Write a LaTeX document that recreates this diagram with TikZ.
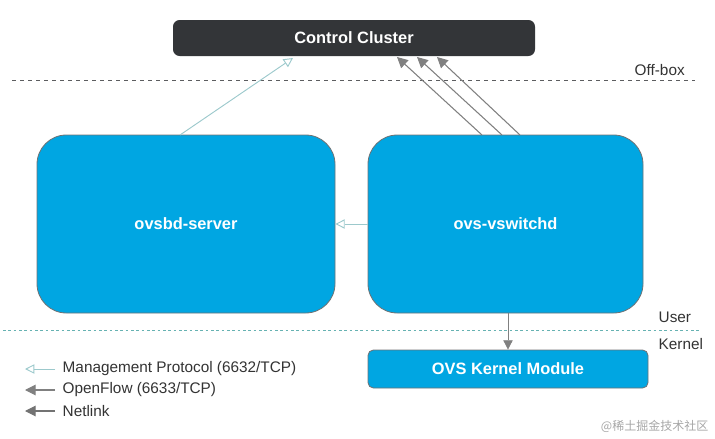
\documentclass[tikz,border=0pt]{standalone}
\usepackage{fontspec}
\setmainfont{Liberation Sans}
\newfontfamily\cjk{Noto Sans CJK SC}
\usetikzlibrary{arrows.meta}
\definecolor{ovsblue}{HTML}{00A6E2}
\definecolor{dark}{HTML}{333538}
\definecolor{mgmt}{HTML}{9CC9CC}
\definecolor{ofl}{HTML}{808080}
\begin{document}
\begin{tikzpicture}[x=0.75pt,y=-0.75pt,
  box/.style={draw=dark!70,line width=0.6pt,fill=ovsblue,text=white,font=\bfseries\fontsize{12.3}{14}\selectfont},
  mg/.style={draw=mgmt,line width=0.7pt,-{Triangle[open,length=7pt,width=7pt]}},
  of/.style={draw=ofl,line width=0.8pt,-{Triangle[length=8pt,width=8pt]}},
  lbl/.style={font=\fontsize{11.5}{13}\selectfont,text=black!80,anchor=west}]
\useasboundingbox (0,0) rectangle (715,439);
\node[fill=dark,rounded corners=5pt,minimum width=362*0.75pt,minimum height=36*0.75pt,text=white,font=\bfseries\fontsize{12.3}{14}\selectfont] (cc) at (354,38) {Control Cluster};
\draw[dashed,dark!80,line width=0.7pt] (12,80) -- (695,80);
\node[lbl] (ob) at (630,70) {Off-box};
\node[box,rounded corners=22pt,minimum width=298*0.75pt,minimum height=178*0.75pt] (db) at (186,224) {ovsbd-server};
\node[box,rounded corners=22pt,minimum width=275*0.75pt,minimum height=178*0.75pt] (vs) at (505.5,224) {ovs-vswitchd};
\node[box,rounded corners=4pt,minimum width=280*0.75pt,minimum height=38*0.75pt] (km) at (508,369) {OVS Kernel Module};
\draw[dash pattern=on 2pt off 2pt,color=teal!60,line width=0.7pt] (3,330) -- (700,330);
\node[lbl] (us) at (654,317) {User};
\node[lbl] (ke) at (654,344) {Kernel};
\coordinate (a1) at (180,135); \coordinate (a1e) at (293,58);
\draw[mg] (a1) -- (a1e);
\coordinate (b1) at (482,135); \coordinate (b1e) at (397,57);
\coordinate (b2) at (502,135); \coordinate (b2e) at (417,57);
\coordinate (b3) at (520,135); \coordinate (b3e) at (437,57);
\draw[of] (b1) -- (b1e); \draw[of] (b2) -- (b2e); \draw[of] (b3) -- (b3e);
\draw[mg] (vs.west) -- (db.east);
\draw[of,line width=0.6pt,-{Triangle[length=7pt,width=7pt]}] (vs.south -| km.north) -- (km.north);
\coordinate (l1) at (55,369); \coordinate (l1e) at (25,369);
\coordinate (l2) at (55,390); \coordinate (l2e) at (25,390);
\coordinate (l3) at (55,411); \coordinate (l3e) at (25,411);
\draw[mg] (l1) -- (l1e); \draw[of] (l2) -- (l2e); \draw[of,draw=ofl!90!black] (l3) -- (l3e);
\node[lbl] (t1) at (58,369) {Management Protocol (6632/TCP)};
\node[lbl] (t2) at (58,390) {OpenFlow (6633/TCP)};
\node[lbl] (t3) at (58,411) {Netlink};
\node[font=\cjk\fontsize{9}{11}\selectfont,text=black!35,anchor=east] (wm) at (713,426) {@稀土掘金技术社区};
\end{tikzpicture}
\end{document}
